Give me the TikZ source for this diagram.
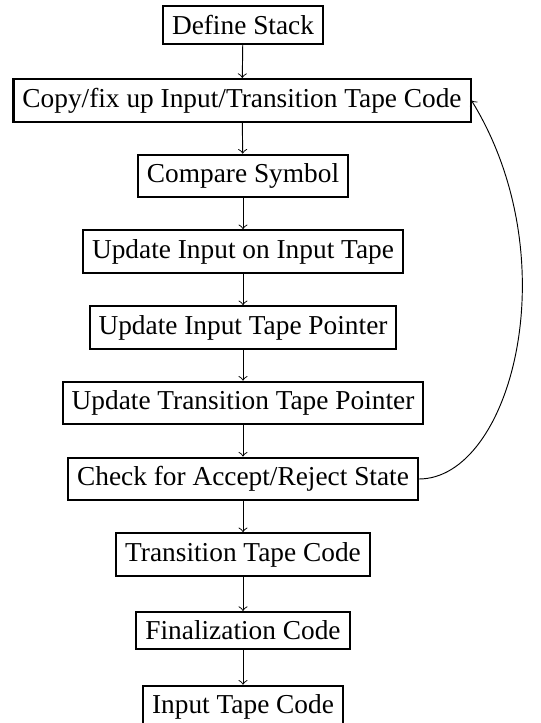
\documentclass[tikz,border=0pt]{standalone}
\usepackage{fontspec}
\setmainfont{Liberation Serif}
\begin{document}
\begin{tikzpicture}[x=0.373pt,y=-0.373pt,
  stepbox/.style={draw,line width=0.75pt,font=\fontsize{10.2}{12}\selectfont,inner sep=3.33pt},
  conn/.style={->,line width=0.35pt}]
\useasboundingbox (0,0) rectangle (540,723);
\node[stepbox] (n1) at (243,25) {Define Stack};
\node[stepbox] (n2) at (242,100.5) {Copy/fix up Input/Transition Tape Code};
\node[stepbox] (n3) at (243,176) {Compare Symbol};
\node[stepbox] (n4) at (243,251.5) {Update Input on Input Tape};
\node[stepbox] (n5) at (243,327.5) {Update Input Tape Pointer};
\node[stepbox] (n6) at (243,403) {Update Transition Tape Pointer};
\node[stepbox] (n7) at (243,479) {Check for Accept/Reject State};
\node[stepbox] (n8) at (243,554.5) {Transition Tape Code};
\node[stepbox] (n9) at (243,630.5) {Finalization Code};
\node[stepbox] (n10) at (243,707) {Input Tape Code};
\draw[conn] (n1) -- (n2);
\draw[conn] (n2) -- (n3);
\draw[conn] (n3) -- (n4);
\draw[conn] (n4) -- (n5);
\draw[conn] (n5) -- (n6);
\draw[conn] (n6) -- (n7);
\draw[conn] (n7) -- (n8);
\draw[conn] (n8) -- (n9);
\draw[conn] (n9) -- (n10);
\draw[conn] (n7.east) .. controls +(92,0) and +(98,160) .. (n2.east);
\end{tikzpicture}
\end{document}
